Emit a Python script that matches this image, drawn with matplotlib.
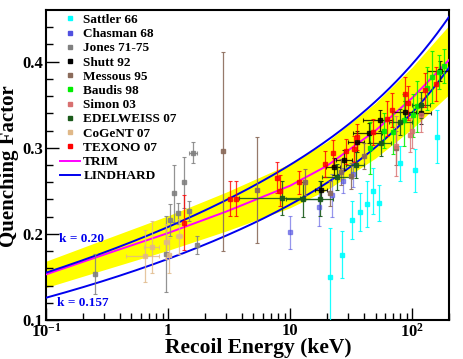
import numpy as np
import matplotlib
matplotlib.use("Agg")
import matplotlib.pyplot as plt
from matplotlib.lines import Line2D
from matplotlib.ticker import FixedLocator, FixedFormatter

plt.rcParams['font.family'] = ['Liberation Serif', 'DejaVu Serif']
plt.rcParams['font.weight'] = 'bold'
plt.rcParams['mathtext.fontset'] = 'custom'
plt.rcParams['mathtext.rm'] = 'Liberation Serif:bold'
plt.rcParams['mathtext.bf'] = 'Liberation Serif:bold'

# Datos (energia en keV, factor de quenching)
sattler_e = [21.3, 26.5, 32, 37.2, 42.7, 47.8, 53.8, 79, 106, 158]
sattler_q = [0.150, 0.176, 0.216, 0.225, 0.235, 0.250, 0.236, 0.282, 0.274, 0.313]
sattler_dq = [0.057, 0.027, 0.022, 0.022, 0.027, 0.027, 0.021, 0.020, 0.025, 0.031]

chasman_e = [10, 17.3, 21.9, 27, 33]
chasman_q = [0.202, 0.231, 0.245, 0.262, 0.270]
chasman_dq = [0.019, 0.022, 0.025, 0.015, 0.015]

jones_e = [0.253, 0.957, 1.03, 1.113, 1.21, 1.34, 1.475, 1.60, 1.74]
jones_q = [0.1535, 0.177, 0.216, 0.247, 0.224, 0.2597, 0.2267, 0.2945, 0.187]
jones_dq = [0.023, 0.044, 0.019, 0.033, 0.012, 0.030, 0.012, 0.012, 0.010]
jones_de = [0, 0, 0, 0, 0, 0, 0, 0.13, 0]

shutt_e = [18, 22.7, 27.8, 35, 44.6, 54.5, 87.6, 117, 168]
shutt_q = [0.251, 0.278, 0.286, 0.307, 0.317, 0.332, 0.342, 0.340, 0.389]
shutt_dq = [0.010, 0.010, 0.012, 0.012, 0.012, 0.012, 0.012, 0.012, 0.012]
shutt_de = [2, 3, 4, 5, 12, 15, 20, 25, 35]

messous_e = [2.82, 5.35, 13.1, 21.3, 26.1, 31.6, 40, 74]
messous_q = [0.2957, 0.251, 0.260, 0.247, 0.272, 0.267, 0.290, 0.300]
messous_dq = [0.115, 0.062, 0.015, 0.015, 0.015, 0.015, 0.015, 0.020]

baudis_e = [45, 58.8, 70, 85, 101, 110, 131, 144, 165, 182]
baudis_q = [0.300, 0.320, 0.318, 0.332, 0.338, 0.348, 0.369, 0.382, 0.388, 0.395]
baudis_dq = [0.030, 0.020, 0.025, 0.030, 0.025, 0.030, 0.025, 0.030, 0.020, 0.020]

simon_e = [73, 96, 100, 117]
simon_q = [0.302, 0.315, 0.320, 0.338]
simon_dq = [0.035, 0.020, 0.020, 0.020]

edel_e = [8.6, 12.7, 17.5, 24.3, 34.4, 55, 80, 117]
edel_q = [0.2415, 0.240, 0.241, 0.266, 0.280, 0.305, 0.330, 0.350]
edel_dq = [0.020, 0.020, 0.020, 0.015, 0.015, 0.015, 0.015, 0.015]
edel_de_lo = [4.8, 3.5, 4.5, 6, 6, 10, 15, 17]
edel_de_hi = [3.5, 4.5, 5, 8, 6, 12, 20, 23]

cogent_e = [0.65, 0.74, 0.97, 1.01, 1.23]
cogent_q = [0.174, 0.185, 0.191, 0.175, 0.197]
cogent_dq = [0.030, 0.030, 0.020, 0.020, 0.020]
cogent_de = [0.20, 0.10, 0.05, 0.05, 0.06]

texono_e = [1.35, 3.19, 3.6, 7.78, 8.2, 11.9, 19.4, 22.6, 28.7, 33.2, 35, 48,
            62, 68.5, 86.5, 92, 126, 156]
texono_q = [0.213, 0.241, 0.241, 0.2655, 0.250, 0.2597, 0.281, 0.294, 0.2957,
            0.299, 0.313, 0.318, 0.334, 0.344, 0.362, 0.352, 0.367, 0.374]
texono_dq = [0.032, 0.020, 0.020, 0.018, 0.018, 0.013, 0.015, 0.015, 0.015,
             0.015, 0.015, 0.015, 0.020, 0.020, 0.020, 0.020, 0.020, 0.020]

# Curva TRIM
trim_e = [0.1, 0.3, 1, 3, 10, 20, 50, 100, 200]
trim_q = [0.153, 0.176, 0.201, 0.226, 0.256, 0.279, 0.320, 0.358, 0.402]
banda = 0.10  # ancho relativo de la banda amarilla

k_valores = [0.20, 0.157]
Z_ge = 32

x_ticks = [0.1, 1, 10, 100]
x_labels = [r'$\mathregular{10^{-1}}$', '1', '10', r'$\mathregular{10^{2}}$']
y_ticks = [0.1, 0.2, 0.3, 0.4]


def lindhard(E, k, Z=Z_ge):
    eps = 11.5 * E * Z ** (-7.0 / 3.0)
    g = 3 * eps ** 0.15 + 0.7 * eps ** 0.6 + eps
    return k * g / (1 + k * g)


fig = plt.figure(figsize=(4.63, 3.59), dpi=100)
ax = fig.add_axes([0.0994, 0.1086, 0.8704, 0.8635])

# Banda y TRIM
te = np.array(trim_e)
tq = np.array(trim_q)
ax.fill_between(te, tq * (1 - banda), tq * (1 + banda), color='#ffff00', lw=0, zorder=1)
ax.plot(te, tq, color='#ff00ff', lw=1.4, zorder=3)

# Lindhard
E = np.logspace(-1, np.log10(200), 300)
for k in k_valores:
    ax.plot(E, lindhard(E, k), color='#0000ee', lw=1.4, zorder=3)

series = [
    ('Sattler 66', '#00ffff', sattler_e, sattler_q, sattler_dq, None, 0.9),
    ('Chasman 68', '#5050e0', chasman_e, chasman_q, chasman_dq, None, 0.6),
    ('Jones 71-75', '#808080', jones_e, jones_q, jones_dq, jones_de, 0.85),
    ('Shutt 92', '#000000', shutt_e, shutt_q, shutt_dq, shutt_de, 0.8),
    ('Messous 95', '#8b6b5b', messous_e, messous_q, messous_dq, None, 0.9),
    ('Baudis 98', '#00ee00', baudis_e, baudis_q, baudis_dq, None, 0.85),
    ('Simon 03', '#d87070', simon_e, simon_q, simon_dq, None, 0.8),
    ('EDELWEISS 07', '#1a5a1a', edel_e, edel_q, edel_dq, [edel_de_lo, edel_de_hi], 0.9),
    ('CoGeNT 07', '#e0b888', cogent_e, cogent_q, cogent_dq, cogent_de, 0.8),
    ('TEXONO 07', '#ff0000', texono_e, texono_q, texono_dq, None, 0.8),
]

handles = []
for nombre, col, e, q, dq, de, a in series:
    ax.errorbar(e, q, yerr=dq, xerr=de, fmt='s', ms=3.2, color=col, ecolor=col,
                elinewidth=0.9, capsize=1.5, capthick=0.8, alpha=a, zorder=4)
    handles.append(Line2D([], [], ls='none', marker='s', ms=2.8, color=col, mec=col))
handles.append(Line2D([], [], color='#ff00ff', lw=1.4))
handles.append(Line2D([], [], color='#0000ee', lw=1.4))
nombres = [s[0] for s in series] + ['TRIM', 'LINDHARD']

leg = ax.legend(handles, nombres, loc='upper left', bbox_to_anchor=(0.022, 1.005),
                frameon=False, fontsize=9.5, handlelength=1.5, handletextpad=0.25,
                labelspacing=0.15, borderaxespad=0)
for t in leg.get_texts():
    t.set_fontweight('bold')

ax.text(0.128, 0.1907, 'k = 0.20', color='#0000ee', fontsize=9.5, fontweight='bold')
ax.text(0.123, 0.1163, 'k = 0.157', color='#0000ee', fontsize=9.5, fontweight='bold')

ax.set_xscale('log')
ax.set_xlim(0.1, 200)
ax.set_ylim(0.1, 0.46)

ax.xaxis.set_major_locator(FixedLocator(x_ticks))
ax.xaxis.set_major_formatter(FixedFormatter(x_labels))
ax.set_yticks(y_ticks)
ax.set_yticklabels(['0.1', '0.2', '0.3', '0.4'])
ax.set_yticks(np.arange(0.12, 0.46, 0.02), minor=True)
ax.tick_params(which='both', direction='in', top=False, right=False,
               labelsize=12, width=1)
ax.tick_params(which='major', length=9, pad=2)
ax.tick_params(which='minor', length=5)
for lab in ax.get_xticklabels() + ax.get_yticklabels():
    lab.set_fontweight('bold')
for sp in ax.spines.values():
    sp.set_linewidth(1.5)

# Titulos de ejes colocados a mano
fig.text(258 / 463, 5.5 / 359, 'Recoil Energy (keV)', fontsize=15.5,
         fontweight='bold', ha='center', va='baseline')
fig.text(9.5 / 463, 1 - 166 / 359, 'Quenching Factor', fontsize=15,
         fontweight='bold', ha='center', va='center', rotation=90)

fig.savefig('out.png', dpi=100)
